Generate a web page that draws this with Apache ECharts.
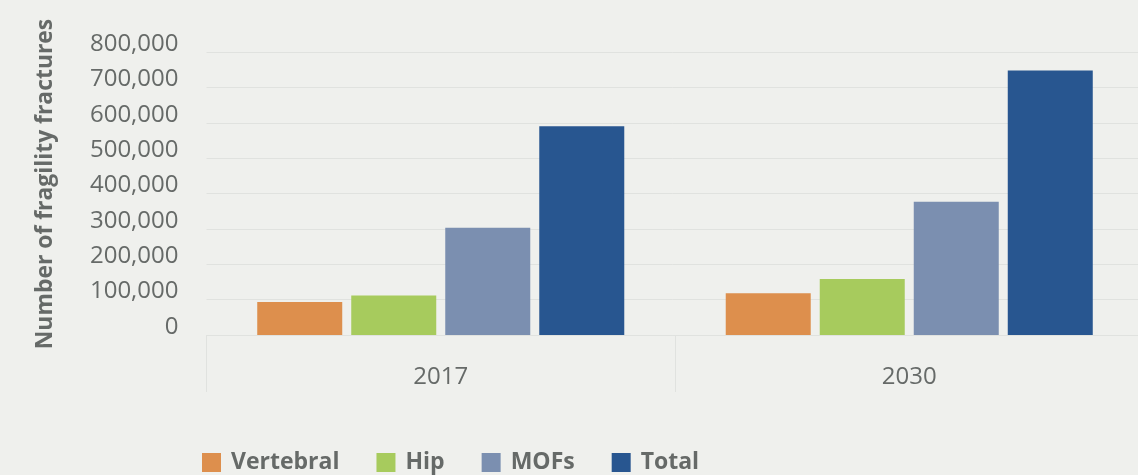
<!DOCTYPE html>
<html>
<head>
<meta charset="utf-8">
<script src="https://cdn.jsdelivr.net/npm/echarts@6/dist/echarts.min.js"></script>
<style>
  html, body { margin: 0; padding: 0; background: #eff0ed; }
  #chart { width: 1138px; height: 475px; }
</style>
</head>
<body>
<div id="chart"></div>
<script>
// data
const years = ['2017', '2030'];
const vertebral = [93000, 118000];
const hip = [112000, 158000];
const mofs = [303000, 377000];
const total = [590000, 748000];
const seriesNames = ['Vertebral', 'Hip', 'MOFs', 'Total'];
const seriesColors = ['#dd8f4d', '#a7cb5d', '#7b8fb0', '#285690'];

const gray = '#666a68';
const lineGray = '#e0e2df';
const font = '"Open Sans", sans-serif';

let chart = echarts.init(document.getElementById('chart'), null, { renderer: 'canvas' });

function bar(name, data, color){
    return {
        name: name,
        type: 'bar',
        data: data,
        barWidth: 85,
        barGap: '10.6%',
        itemStyle: { color: color },
        animation: false
    };
}

chart.setOption({
    backgroundColor: '#eff0ed',
    animation: false,
    grid: { left: 206.5, top: 52, width: 937, bottom: 140, outerBoundsMode: 'none', containLabel: false },
    legend: {
        left: 202,
        top: 451,
        padding: 0,
        itemWidth: 19,
        itemHeight: 19,
        itemGap: 37,
        icon: 'rect',
        data: seriesNames,
        textStyle: { color: gray, fontSize: 23, fontWeight: 'bold', fontFamily: font, padding: [0, 0, 0, 5] }
    },
    xAxis: {
        type: 'category',
        data: years,
        boundaryGap: true,
        axisLine: { show: true, lineStyle: { color: lineGray, width: 1 } },
        axisTick: { show: true, alignWithLabel: false, length: 57, lineStyle: { color: lineGray, width: 1 } },
        axisLabel: { color: gray, fontSize: 24, fontFamily: font, margin: 30 }
    },
    yAxis: {
        type: 'value',
        min: 0,
        max: 800000,
        interval: 100000,
        name: 'Number of fragility fractures',
        nameLocation: 'middle',
        nameGap: 150,
        nameTextStyle: { color: gray, fontSize: 22.9, fontWeight: 'bold', fontFamily: font, padding: [0, 0, 0, 19] },
        axisLine: { show: false },
        axisTick: { show: false },
        splitLine: { lineStyle: { color: lineGray, width: 1 } },
        axisLabel: {
            color: gray,
            fontSize: 24,
            fontFamily: font,
            margin: 28,
            verticalAlign: 'bottom',
            lineHeight: 16,
            formatter: v => v.toLocaleString('en-US')
        }
    },
    series: [
        bar(seriesNames[0], vertebral, seriesColors[0]),
        bar(seriesNames[1], hip, seriesColors[1]),
        bar(seriesNames[2], mofs, seriesColors[2]),
        bar(seriesNames[3], total, seriesColors[3])
    ]
});
</script>
</body>
</html>
